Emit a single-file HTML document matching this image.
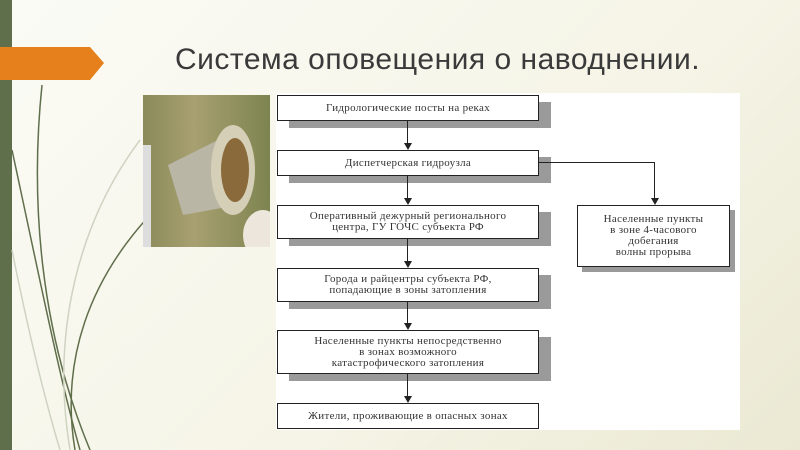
<!DOCTYPE html>
<html><head><meta charset="utf-8"><style>
body{margin:0;width:800px;height:450px;overflow:hidden;position:relative;background:linear-gradient(135deg,#fbfbf6 0%,#f5f4e6 60%,#ebe9d3 100%);font-family:"Liberation Serif",serif}
.b{position:absolute;background:#fff;border:1.5px solid #222;box-sizing:border-box;text-align:center;font-size:11px;letter-spacing:0.3px;color:#333;line-height:11px;display:flex;align-items:center;justify-content:center;box-shadow:12px 7px 0 #9a9a9a}
.v{position:absolute;width:1.2px;background:#222;left:407px}
.a{position:absolute;width:0;height:0;border-left:4px solid transparent;border-right:4px solid transparent;border-top:7px solid #222}
</style></head><body>
<div style="position:absolute;left:0;top:0;width:12px;height:450px;background:#5f6e4b"></div>
<svg style="position:absolute;left:0;top:0" width="800" height="450">
<polygon points="0,47 90,47 104,63 90,80 0,80" fill="#e5801c"/>
<g fill="none" stroke="#5f6e4b" stroke-width="1.5">
<path d="M42,85 C30,200 40,330 90,450"/>
<path d="M12,150 C40,280 60,380 80,450" />
<path d="M150,215 C90,280 60,360 75,450"/>
<path d="M140,140 C80,220 50,330 70,450" stroke="#cfd3c2"/>
<path d="M12,250 C30,340 45,400 60,450" stroke="#cfd3c2"/>
</g>
</svg>
<div style="position:absolute;left:175px;top:43px;font-family:'Liberation Sans',sans-serif;font-size:30px;color:#3a3a3a;letter-spacing:0.5px">Система оповещения о наводнении.</div>
<div style="position:absolute;left:143px;top:95px;width:127px;height:152px;background:linear-gradient(90deg,#8a8a5a,#a8a070 40%,#7d8450)"></div>
<svg style="position:absolute;left:143px;top:95px" width="127" height="152">
<rect x="0" y="50" width="8" height="102" fill="#ddd"/>
<path d="M25,70 L85,40 L95,110 L40,120 Z" fill="#b9b6a5"/>
<ellipse cx="90" cy="75" rx="22" ry="45" fill="#d6cfb8"/>
<ellipse cx="92" cy="75" rx="14" ry="32" fill="#8a6a3a"/>
<ellipse cx="120" cy="140" rx="20" ry="25" fill="#ece6dc"/>
</svg>
<div style="position:absolute;left:276px;top:93px;width:464px;height:337px;background:#fff"></div>
<div class="b" style="left:277px;top:95px;width:262px;height:26px">Гидрологические посты на реках</div>
<div class="b" style="left:277px;top:150px;width:262px;height:26px">Диспетчерская гидроузла</div>
<div class="b" style="left:277px;top:205px;width:262px;height:34px">Оперативный дежурный регионального<br>центра, ГУ ГОЧС субъекта РФ</div>
<div class="b" style="left:277px;top:268px;width:262px;height:34px">Города и райцентры субъекта РФ,<br>попадающие в зоны затопления</div>
<div class="b" style="left:277px;top:330px;width:262px;height:44px">Населенные пункты непосредственно<br>в зонах возможного<br>катастрофического затопления</div>
<div class="b" style="left:277px;top:403px;width:262px;height:26px;box-shadow:none">Жители, проживающие в опасных зонах</div>
<div class="b" style="left:577px;top:205px;width:153px;height:62px;box-shadow:5px 5px 0 #9a9a9a">Населенные пункты<br>в зоне 4-часового<br>добегания<br>волны прорыва</div>
<div class="v" style="top:121px;height:23px"></div><div class="a" style="left:404px;top:143px"></div>
<div class="v" style="top:176px;height:23px"></div><div class="a" style="left:404px;top:198px"></div>
<div class="v" style="top:239px;height:23px"></div><div class="a" style="left:404px;top:261px"></div>
<div class="v" style="top:302px;height:22px"></div><div class="a" style="left:404px;top:323px"></div>
<div class="v" style="top:374px;height:23px"></div><div class="a" style="left:404px;top:396px"></div>
<div style="position:absolute;left:539px;top:162px;width:116px;height:1.2px;background:#222"></div>
<div style="position:absolute;left:654px;top:162px;width:1.2px;height:36px;background:#222"></div>
<div class="a" style="left:651px;top:198px"></div>
</body></html>
